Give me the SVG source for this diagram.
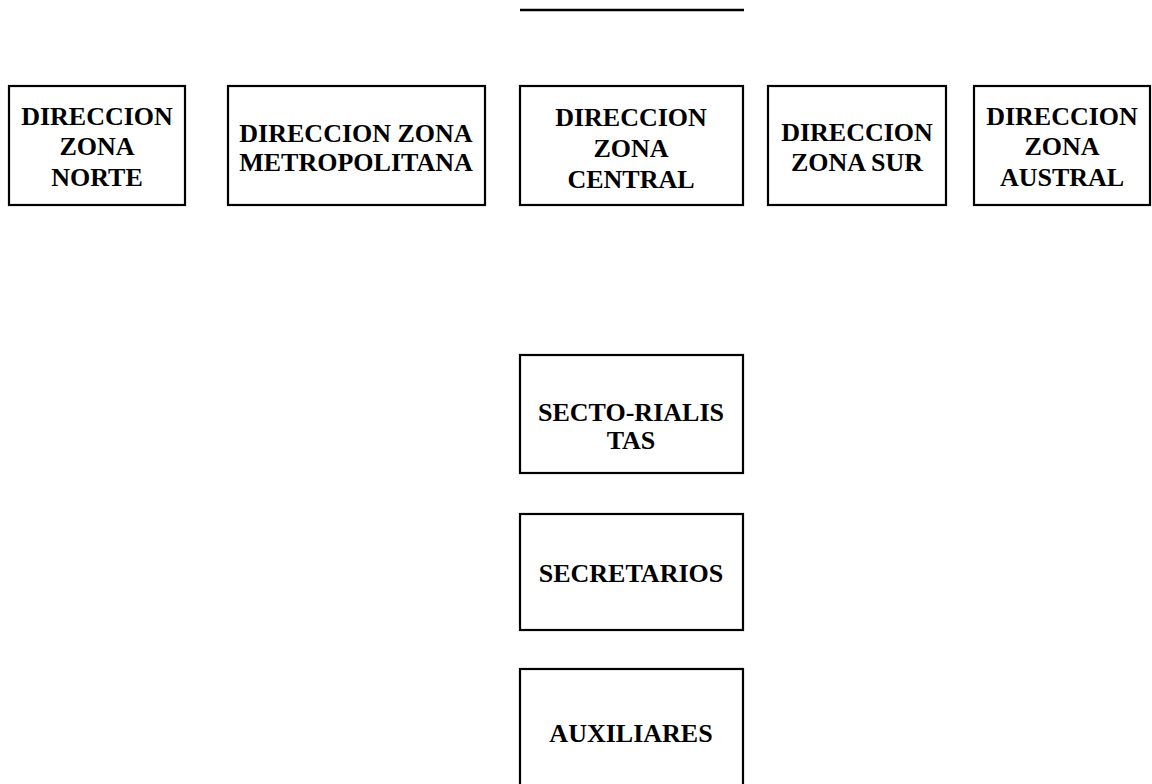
<svg xmlns="http://www.w3.org/2000/svg" width="1152" height="784" viewBox="0 0 1152 784">
<style>
.box{fill:#fff;stroke:#000;stroke-width:2.2}
.t{font-family:"Liberation Serif","Times New Roman",serif;font-weight:bold;font-size:26px;fill:#000;text-anchor:middle}
</style>
<rect width="1152" height="784" fill="#fff"/>
<g id="connectors">
<line x1="520" y1="10" x2="744" y2="10" stroke="#000" stroke-width="2.5"/>
</g>
<g id="n-norte"><rect class="box" x="9" y="86" width="176" height="119"/>
<text class="t" x="97" y="125">DIRECCION</text><text class="t" x="97" y="155">ZONA</text><text class="t" x="97" y="186">NORTE</text></g>
<g id="n-metro"><rect class="box" x="228" y="86" width="257" height="119"/>
<text class="t" x="356" y="142">DIRECCION ZONA</text><text class="t" x="356" y="171">METROPOLITANA</text></g>
<g id="n-central"><rect class="box" x="520" y="86" width="223" height="119"/>
<text class="t" x="631" y="126">DIRECCION</text><text class="t" x="631" y="157">ZONA</text><text class="t" x="631" y="188">CENTRAL</text></g>
<g id="n-sur"><rect class="box" x="768" y="86" width="178" height="119"/>
<text class="t" x="857" y="141">DIRECCION</text><text class="t" x="857" y="171">ZONA SUR</text></g>
<g id="n-austral"><rect class="box" x="974" y="86" width="176" height="119"/>
<text class="t" x="1062" y="125">DIRECCION</text><text class="t" x="1062" y="155">ZONA</text><text class="t" x="1062" y="186">AUSTRAL</text></g>
<g id="n-secto"><rect class="box" x="520" y="355" width="223" height="118"/>
<text class="t" x="631" y="421">SECTO-RIALIS</text><text class="t" x="631" y="449">TAS</text></g>
<g id="n-secretarios"><rect class="box" x="520" y="514" width="223" height="116"/>
<text class="t" x="631" y="582">SECRETARIOS</text></g>
<g id="n-auxiliares"><rect class="box" x="520" y="669" width="223" height="130"/>
<text class="t" x="631" y="742">AUXILIARES</text></g>
</svg>
